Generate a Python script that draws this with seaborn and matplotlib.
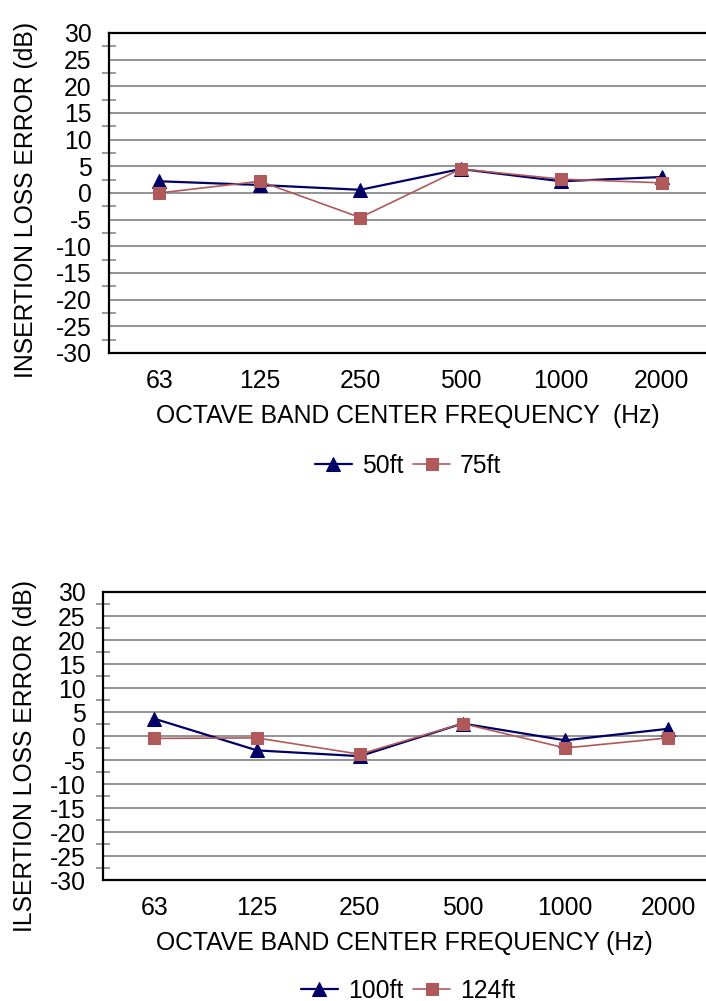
import matplotlib
matplotlib.use("Agg")
import matplotlib.pyplot as plt
from matplotlib.ticker import MultipleLocator
import seaborn as sns
import pandas as pd

freqs = ["63", "125", "250", "500", "1000", "2000"]

# top chart
ft50 = [2.2, 1.5, 0.6, 4.5, 2.2, 3.0]
ft75 = [0.0, 2.2, -4.6, 4.5, 2.6, 1.9]
# bottom chart
ft100 = [3.6, -3.0, -4.2, 2.6, -0.9, 1.5]
ft124 = [-0.5, -0.4, -3.8, 2.6, -2.5, -0.4]

NAVY = "#000066"
RED = "#B0595A"
GRID = "#808080"
FS = 17.8

sns.set_style("white")
plt.rcParams["font.family"] = ["Liberation Sans", "DejaVu Sans"]
plt.rcParams["font.size"] = FS
plt.rcParams["axes.unicode_minus"] = False
plt.rcParams["text.color"] = "black"
plt.rcParams["axes.labelcolor"] = "black"

W, H = 706, 1001
fig = plt.figure(figsize=(W / 100, H / 100), dpi=100)


def px_axes(left, top, right, bottom):
    return fig.add_axes([left / W, 1 - bottom / H, (right - left) / W, (bottom - top) / H])


def draw(ax, a, b, la, lb, ylabel, xlabel, xmax, lab_xy):
    df_a = pd.DataFrame({"freq": freqs, "val": a})
    df_b = pd.DataFrame({"freq": freqs, "val": b})
    sns.lineplot(data=df_a, x="freq", y="val", ax=ax, color=NAVY, lw=1.6,
                 marker="^", markersize=9.5, markeredgecolor=NAVY, label=la, legend=False)
    sns.lineplot(data=df_b, x="freq", y="val", ax=ax, color=RED, lw=1.2,
                 marker="s", markersize=8.5, markeredgecolor=RED, label=lb, legend=False)
    ax.set_xlim(-0.5, xmax)
    ax.set_ylim(-30, 30)
    ax.yaxis.set_major_locator(MultipleLocator(5))
    ax.yaxis.set_minor_locator(MultipleLocator(2.5))
    ax.set_axisbelow(True)
    ax.grid(axis="y", which="major", color=GRID, lw=1.2)
    ax.grid(axis="x", visible=False)
    for s in ["left", "bottom", "top"]:
        ax.spines[s].set_color("black")
        ax.spines[s].set_linewidth(1.6)
    ax.spines["right"].set_visible(False)
    ax.tick_params(axis="y", which="major", direction="out", length=8.6, width=1.1,
                   color=GRID, labelcolor="black", pad=4, labelsize=FS)
    ax.tick_params(axis="y", which="minor", direction="inout", length=9.4, width=1.1,
                   color=GRID, left=True)
    ax.tick_params(axis="x", direction="inout", length=11.5, width=0.8, color=GRID,
                   labelcolor="black", pad=6, labelsize=FS)
    ax.set_xlabel(xlabel, fontsize=FS, labelpad=8)
    ax.set_ylabel(ylabel, fontsize=FS)
    ax.yaxis.set_label_coords(*lab_xy)


ax1 = px_axes(109, 33, 706, 353)
draw(ax1, ft50, ft75, "50ft", "75ft", "INSERTION LOSS ERROR (dB)",
     "OCTAVE BAND CENTER FREQUENCY  (Hz)", 5.44, (-71 / 597, (353 - 200) / 320))

ax2 = px_axes(103, 592, 706, 880)
draw(ax2, ft100, ft124, "100ft", "124ft", "ILSERTION LOSS ERROR (dB)",
     "OCTAVE BAND CENTER FREQUENCY (Hz)", 5.37, (-66 / 603, (880 - 756) / 288))

for ax, y in [(ax1, 1 - 466 / H), (ax2, 1 - 991 / H)]:
    h, l = ax.get_legend_handles_labels()
    fig.legend(h, l, loc="center", bbox_to_anchor=(408 / W, y), ncol=2, frameon=False,
               fontsize=FS, handlelength=1.5, handletextpad=0.4, columnspacing=0.4,
               borderaxespad=0, borderpad=0)

fig.savefig("out.png", dpi=100)
